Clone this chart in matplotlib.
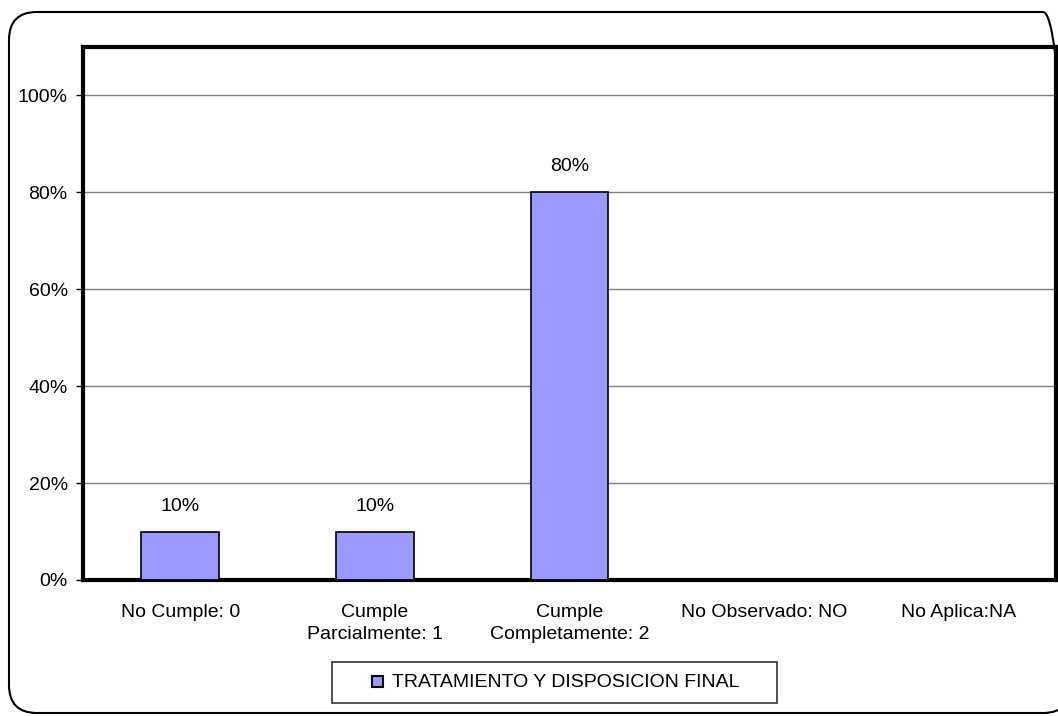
import matplotlib
matplotlib.use("Agg")
import matplotlib.pyplot as plt
from matplotlib.patches import FancyBboxPatch, Rectangle
from matplotlib.ticker import FuncFormatter

categories = ["No Cumple: 0", "Cumple\nParcialmente: 1", "Cumple\nCompletamente: 2",
              "No Observado: NO", "No Aplica:NA"]
values = [10, 10, 80, 0, 0]
labels = ["10%", "10%", "80%", None, None]
series_name = "TRATAMIENTO Y DISPOSICION FINAL"
yticks = [0, 20, 40, 60, 80, 100]

BAR_COLOR = "#9999FF"
plt.rcParams['font.family'] = ['Liberation Sans', 'DejaVu Sans']
FS = 14
W, H = 1058, 716
fig = plt.figure(figsize=(W / 100, H / 100), dpi=100)


def fx(px):
    return px / W


def fy(py):
    return 1 - py / H


# rounded chart frame, drawn in inches so the corners stay circular
frame = FancyBboxPatch((0.09, 0.03), 10.62, 7.01,
                       boxstyle="round,pad=0,rounding_size=0.28",
                       transform=fig.dpi_scale_trans, fill=False, lw=1.5,
                       edgecolor="black")
fig.patches.append(frame)

ax = fig.add_axes([fx(83), fy(580), fx(1056 - 83), (580 - 47) / H])
x = range(len(categories))
bars = ax.bar(x, values, width=0.4, color=BAR_COLOR, edgecolor="black", lw=1.2,
              zorder=3)
for b, lab in zip(bars, labels):
    if lab:
        ax.text(b.get_x() + b.get_width() / 2, b.get_height() + 3.5, lab,
                ha="center", va="bottom", fontsize=FS)

ax.set_xlim(-0.5, len(categories) - 0.5)
ax.set_ylim(0, 110)
ax.set_yticks(yticks)
ax.yaxis.set_major_formatter(FuncFormatter(lambda v, p: f"{v:.0f}%"))
ax.yaxis.grid(True, color="#808080", lw=1, zorder=0)
ax.set_xticks(list(x))
ax.set_xticklabels(categories, fontsize=FS, linespacing=1.45)
ax.tick_params(axis="x", length=0, pad=17)
ax.tick_params(axis="y", length=5, width=1, labelsize=FS, pad=6)
for s in ax.spines.values():
    s.set_linewidth(3)

# legend box with a single series entry
fig.patches.append(Rectangle((fx(332), fy(703)), fx(777 - 332), (703 - 662) / H,
                             transform=fig.transFigure, fill=False,
                             edgecolor="#333333", lw=1.2))
fig.patches.append(Rectangle((fx(372), fy(687)), fx(11), 11 / H,
                             transform=fig.transFigure, facecolor=BAR_COLOR,
                             edgecolor="black", lw=1.5))
fig.text(fx(392), fy(682.5), series_name, fontsize=FS, ha="left", va="center")

fig.savefig("out.png", dpi=100)
